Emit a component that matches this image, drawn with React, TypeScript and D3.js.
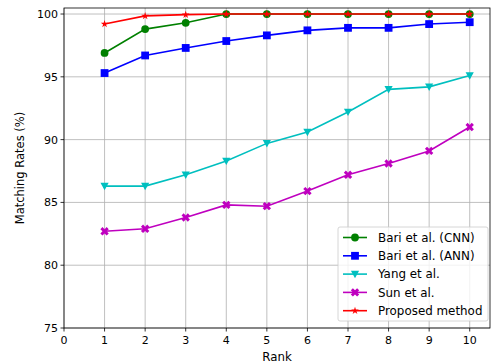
import React from "react";
import * as d3 from "d3";

const ranks = [1, 2, 3, 4, 5, 6, 7, 8, 9, 10];
const cnn = [96.9, 98.8, 99.3, 100, 100, 100, 100, 100, 100, 100];
const ann = [95.3, 96.7, 97.3, 97.85, 98.3, 98.7, 98.9, 98.9, 99.2, 99.35];
const yang = [86.3, 86.3, 87.2, 88.3, 89.7, 90.6, 92.2, 94.0, 94.2, 95.1];
const sun = [82.7, 82.9, 83.8, 84.8, 84.7, 85.9, 87.2, 88.1, 89.1, 91.0];
const proposed = [99.2, 99.85, 99.95, 100, 100, 100, 100, 100, 100, 100];
const xTicks = [0, 1, 2, 3, 4, 5, 6, 7, 8, 9, 10];
const yTicks = [75, 80, 85, 90, 95, 100];

const series = [
  { name: "Bari et al. (CNN)", values: cnn, color: "#008000", marker: "circle" },
  { name: "Bari et al. (ANN)", values: ann, color: "#0000ff", marker: "square" },
  { name: "Yang et al.", values: yang, color: "#00bfbf", marker: "tri" },
  { name: "Sun et al.", values: sun, color: "#bf00bf", marker: "x" },
  { name: "Proposed method", values: proposed, color: "#ff0000", marker: "star" },
];

const W = 497, H = 364;
const m = { left: 64, right: 4, top: 8, bottom: 36 };
const FONT = "DejaVu Sans, sans-serif";

function Marker({ type, x, y, color }: { type: string; x: number; y: number; color: string }) {
  const s = 3.9;
  if (type === "circle") return <circle cx={x} cy={y} r={s} fill={color} />;
  if (type === "square") return <rect x={x - s} y={y - s} width={2 * s} height={2 * s} fill={color} />;
  if (type === "tri") {
    const p = [[x - s * 1.05, y - s * 0.85], [x + s * 1.05, y - s * 0.85], [x, y + s * 1.05]];
    return <polygon points={p.map((q) => q.join(",")).join(" ")} fill={color} />;
  }
  if (type === "x") {
    const path = d3.symbol().type(d3.symbolCross).size(44)();
    return <path d={path || ""} transform={`translate(${x},${y}) rotate(45)`} fill={color} />;
  }
  const path = d3.symbol().type(d3.symbolStar).size(18)();
  return <path d={path || ""} transform={`translate(${x},${y})`} fill={color} />;
}

export default function App() {
  const x = d3.scaleLinear().domain([0, 10.5]).range([m.left, W - m.right - 3]);
  const y = d3.scaleLinear().domain([75, 100.48]).range([H - m.bottom, m.top]);
  const line = d3.line<number>().x((_, i) => x(ranks[i])).y((d) => y(d));
  const x0 = x.range()[0], x1 = x.range()[1];
  const y0 = y.range()[0], y1 = y.range()[1];

  const lx = 338, ly = 227, lw = 150, lh = 94;
  return (
    <svg width={W} height={H} style={{ position: "absolute", left: 0, top: 0, background: "#fff" }}>
      <rect x={0} y={0} width={W} height={H} fill="#fff" />
      {xTicks.map((t) => (
        <line key={"gx" + t} x1={x(t)} x2={x(t)} y1={y0} y2={y1} stroke="#b0b0b0" strokeWidth={0.8} />
      ))}
      {yTicks.map((t) => (
        <line key={"gy" + t} x1={x0} x2={x1} y1={y(t)} y2={y(t)} stroke="#b0b0b0" strokeWidth={0.8} />
      ))}
      {series.map((s) => (
        <g key={s.name}>
          <path d={line(s.values) || ""} fill="none" stroke={s.color} strokeWidth={1.6} />
          {s.values.map((v, i) => (
            <Marker key={i} type={s.marker} x={x(ranks[i])} y={y(v)} color={s.color} />
          ))}
        </g>
      ))}
      <rect x={x0} y={y1} width={x1 - x0} height={y0 - y1} fill="none" stroke="#000" strokeWidth={0.8} />
      {xTicks.map((t) => (
        <g key={"tx" + t}>
          <line x1={x(t)} x2={x(t)} y1={y0} y2={y0 + 3.5} stroke="#000" strokeWidth={0.8} />
          <text x={x(t)} y={y0 + 16} textAnchor="middle" fontFamily={FONT} fontSize={11} fill="#000">{t}</text>
        </g>
      ))}
      {yTicks.map((t) => (
        <g key={"ty" + t}>
          <line x1={x0 - 3.5} x2={x0} y1={y(t)} y2={y(t)} stroke="#000" strokeWidth={0.8} />
          <text x={x0 - 6} y={y(t) + 4} textAnchor="end" fontFamily={FONT} fontSize={11} fill="#000">{t}</text>
        </g>
      ))}
      <text x={(x0 + x1) / 2} y={H - 3} textAnchor="middle" fontFamily={FONT} fontSize={11.8}>Rank</text>
      <text transform={`translate(24,${(y0 + y1) / 2}) rotate(-90)`} textAnchor="middle" fontFamily={FONT} fontSize={11.5}>Matching Rates (%)</text>
      <rect x={lx} y={ly} width={lw} height={lh} rx={2} fill="#fff" fillOpacity={0.8} stroke="#cccccc" strokeWidth={0.8} />
      {series.map((s, i) => {
        const yy = ly + 10.5 + i * 18.3;
        return (
          <g key={"lg" + s.name}>
            <line x1={lx + 5} x2={lx + 29} y1={yy} y2={yy} stroke={s.color} strokeWidth={1.6} />
            <Marker type={s.marker} x={lx + 17} y={yy} color={s.color} />
            <text x={lx + 40} y={yy + 4.2} fontFamily={FONT} fontSize={11.9} fill="#000">{s.name}</text>
          </g>
        );
      })}
    </svg>
  );
}
